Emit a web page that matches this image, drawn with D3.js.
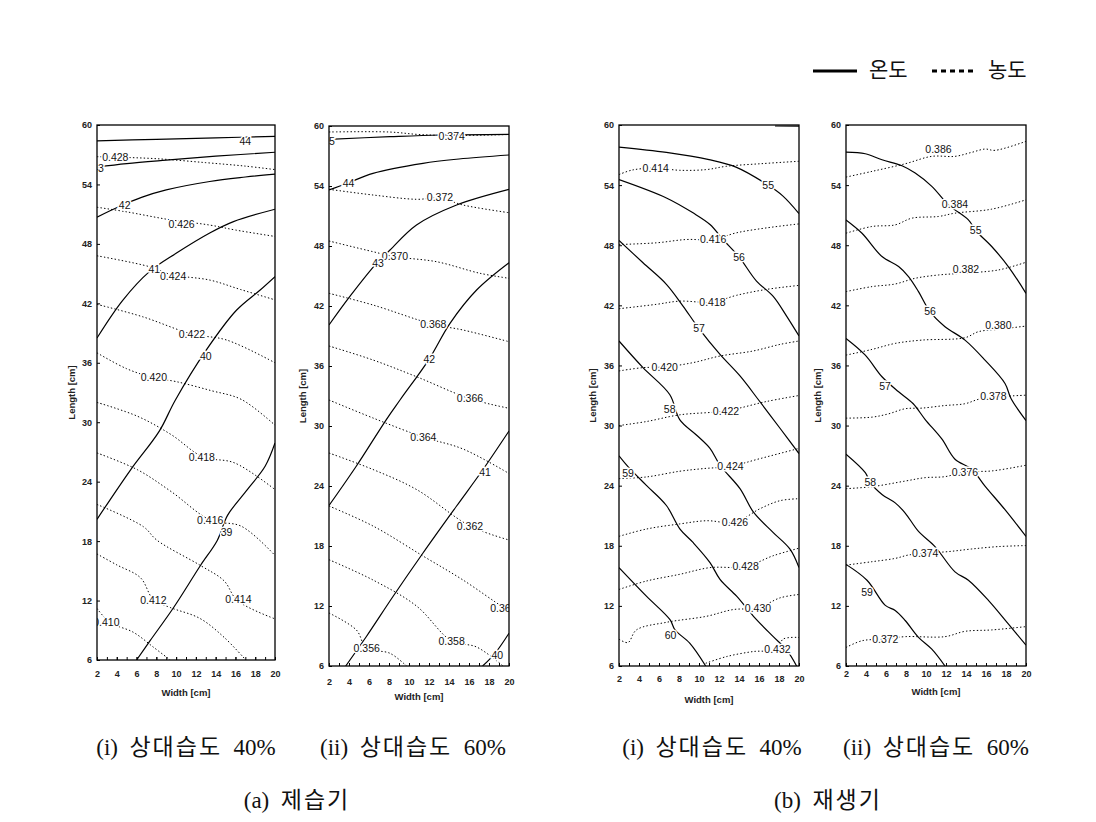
<!DOCTYPE html>
<html><head><meta charset="utf-8">
<script src="https://cdn.jsdelivr.net/npm/d3@7"></script>
<style>body{margin:0;background:#fff} svg{display:block}</style>
</head><body><svg id="c" width="1096" height="822"></svg>
<script>
// ---------- data ----------
const xTicks = [2,4,6,8,10,12,14,16,18,20];
const xMinorTicks = d3.range(3,20,1);
const yTicks = [6,12,18,24,30,36,42,48,54,60];
const xDomain = [2,20];
const yDomain = [6,60];

// (a)(i) dehumidifier, RH 40%
const tempA1 = [
  {level:"44", label:[17,58.35], pts:[[2,58.4],[8,58.55],[14,58.7],[20,58.85]]},
  {level:"43", label:[2.1,55.65], pts:[[2,55.75],[5,56.1],[9,56.45],[14,56.85],[20,57.25]]},
  {level:"42", label:[4.8,51.9], pts:[[2,50.7],[4.3,51.8],[6.5,52.7],[9,53.45],[13.4,54.3],[17,54.75],[20,55.05]]},
  {level:"41", label:[7.8,45.4], pts:[[2,38.5],[4.6,42.3],[7.3,45.2],[10,47.05],[13.4,49.1],[15.8,50.25],[20,51.5]]},
  {level:"40", label:[13.0,36.7], pts:[[2,20.2],[5.4,25.2],[8.3,29.1],[9.9,32.2],[13.06,37.3],[16.1,41.3],[18.5,43.35],[20,44.7]]},
  {level:"39", label:[15.1,18.9], pts:[[6.0,6],[7.37,7.95],[9.75,11.3],[12.46,15.54],[14.16,18.07],[15.2,20.6],[17.2,23.2],[19,25.55],[20,27.9]]}
];
const concA1 = [
  {level:"0.428", label:[3.85,56.7], pts:[[2,56.8],[4,56.75],[8,56.6],[13,56.2],[17,55.85],[20,55.5]]},
  {level:"0.426", label:[10.55,50.0], pts:[[2,51.7],[4.9,51.25],[9.3,50.45],[13.4,49.9],[16,49.4],[20,48.75]]},
  {level:"0.424", label:[9.7,44.7], pts:[[2,46.8],[7.3,45.7],[9.5,44.9],[13.4,44.35],[16.5,43.4],[20,42.35]]},
  {level:"0.422", label:[11.6,38.9], pts:[[2,41.9],[6.6,40.65],[11.6,38.9],[15.1,38.3],[20,36.0]]},
  {level:"0.420", label:[7.75,34.5], pts:[[2,37.0],[5,35.4],[7.7,34.5],[10,34.1],[13.5,33.2],[16.6,32.3],[20,29.7]]},
  {level:"0.418", label:[12.6,26.45], pts:[[2,32.0],[6.1,30.6],[9.5,28.75],[12.7,26.5],[15.9,25.9],[20,23.2]]},
  {level:"0.416", label:[13.45,20.05], pts:[[2,26.9],[6.1,25.2],[9.5,23.0],[13.5,20.1],[16.6,19.5],[20,16.55]]},
  {level:"0.414", label:[16.3,12.1], pts:[[2,21.7],[6.7,19.45],[8.05,18.1],[12.46,15.54],[14.84,14.0],[16.2,12.0],[20,10.15]]},
  {level:"0.412", label:[7.7,12.05], pts:[[2,16.7],[4,15.6],[6.4,14.3],[7.7,12.1],[9.4,11.3],[12.4,10.2],[14.84,8.3],[17.05,6]]},
  {level:"0.410", label:[2.95,9.8], pts:[[2,11.2],[3.3,9.8],[5.67,8.8],[7.7,7.3],[9.4,6]]}
];

// (a)(ii) dehumidifier, RH 60%
const tempA2 = [
  {level:"45", label:[2.0,58.45], pts:[[2,58.67],[8.1,58.93],[13.1,59.1],[20,59.17]]},
  {level:"44", label:[3.95,54.3], pts:[[2,53.6],[3.9,54.3],[6.4,55.27],[11.4,56.27],[15,56.7],[20,57.1]]},
  {level:"43", label:[6.9,46.3], pts:[[2,40.1],[4.07,42.93],[6.9,46.43],[8.1,47.6],[10.75,50.1],[14.76,52.1],[20,53.67]]},
  {level:"42", label:[12.03,36.67], pts:[[2,22.05],[4.74,26],[7.75,30.67],[9.1,32.6],[12.0,36.67],[14.1,40.27],[16.76,43.6],[20,46.33]]},
  {level:"41", label:[17.6,25.35], pts:[[3.67,6],[5.74,8.95],[8.4,12.95],[11.4,17.3],[14.76,22],[17.4,25.65],[20,29.5]]},
  {level:"40", label:[18.83,7.1], pts:[[17.36,6],[18.6,7.27],[20,9.28]]}
];
const concA2 = [
  {level:"0.374", label:[14.27,59.0], pts:[[2,59.4],[8,59.4],[11,59.15],[14.3,59.05],[20,59.15]]},
  {level:"0.372", label:[13.1,52.83], pts:[[2,53.67],[6.4,53.1],[10.75,52.67],[13.1,52.8],[15.4,52.1],[20,51.33]]},
  {level:"0.370", label:[8.6,46.93], pts:[[2,48.5],[6.4,47.43],[8.58,46.93],[12.75,46.43],[17.1,45.27],[20,44.77]]},
  {level:"0.368", label:[12.43,40.17], pts:[[2,43.27],[6.4,42.1],[12.4,40.17],[15.4,39.6],[20,38.43]]},
  {level:"0.366", label:[16.1,32.73], pts:[[2,38.0],[6.4,36.6],[10.75,34.93],[16.1,32.73],[20,31.77]]},
  {level:"0.364", label:[11.43,28.87], pts:[[2,32.6],[6.4,30.8],[11.4,28.9],[15.4,27.7],[20,25.25]]},
  {level:"0.362", label:[16.1,19.93], pts:[[2,27.3],[6.4,25.65],[10.75,23.65],[16.1,20.0],[20,18.6]]},
  {level:"0.360", label:[19.43,11.77], pts:[[2,22.0],[6.4,20.0],[11.4,17.0],[15.4,14.6],[19.4,11.9],[20,11.6]]},
  {level:"0.358", label:[14.26,8.44], pts:[[2,16.63],[6.4,14.6],[10.75,12.0],[14.26,8.5],[16.76,7.9],[19.4,6]]},
  {level:"0.356", label:[5.77,7.77], pts:[[2,11.3],[4.74,9.6],[5.74,7.8],[8.1,7.27],[9.75,6]]}
];

// (b)(i) regenerator, RH 40%
const tempB1 = [
  {level:"54", label:null, pts:[[17.6,59.9],[20,59.88]]},
  {level:"55", label:[16.92,54.0], pts:[[2,57.8],[6.74,57.27],[11.0,56.55],[13.7,55.8],[16.9,54.0],[18.4,52.9],[20,51.16]]},
  {level:"56", label:[14.0,46.84], pts:[[2,54.55],[6.74,52.72],[9.4,51.23],[11.1,50.07],[12.4,48.57],[14.0,46.84],[15.75,44.42],[17.4,42.92],[18.76,40.93],[20,38.94]]},
  {level:"57", label:[10.0,39.67], pts:[[2,48.47],[4.4,46.25],[6.74,44.1],[8.4,41.93],[10.0,39.67],[12.1,37.1],[14.1,34.95],[16.0,32.5],[18.1,29.73],[20,27.2]]},
  {level:"58", label:[7.07,31.6], pts:[[2,38.44],[4.4,35.78],[7.07,33.1],[8.07,30.6],[9.74,29.06],[11.1,27.72],[12.1,26.04],[14.1,23.7],[15.45,21.35],[17.4,19.34],[19.1,17.66],[20,15.82]]},
  {level:"59", label:[2.9,25.2], pts:[[2,26.98],[2.9,25.9],[4.74,24.03],[6.74,22.02],[8.1,19.67],[9.4,18.33],[11.1,16.32],[12.1,14.65],[13.76,12.97],[15.45,10.96],[17.4,8.95],[18.76,7.6],[19.76,6]]},
  {level:"60", label:[7.15,9.1], pts:[[2,15.82],[4.74,12.97],[7.1,10.62],[7.6,9.6],[9.07,8.28],[10.67,6]]}
];
const concB1 = [
  {level:"0.414", label:[5.67,55.7], pts:[[2,55.05],[3.3,55.5],[5.67,55.7],[8.07,55.48],[10.74,55.55],[12.75,55.88],[16.4,56.15],[20,56.38]]},
  {level:"0.416", label:[11.41,48.6], pts:[[2,48.07],[5.74,48.24],[8.74,48.57],[11.4,48.57],[13.75,49.24],[16.75,49.73],[20,50.13]]},
  {level:"0.418", label:[11.35,42.32], pts:[[2,41.66],[5.74,42.1],[8.07,42.42],[11.35,42.32],[13.75,43.0],[16.75,43.59],[20,43.99]]},
  {level:"0.420", label:[6.57,35.85], pts:[[2,35.45],[4.4,35.78],[6.57,35.85],[9.4,36.28],[12.1,36.94],[15.4,37.44],[18.1,38.1],[20,38.44]]},
  {level:"0.422", label:[12.7,31.47], pts:[[2,30.0],[4.74,30.4],[8.07,31.07],[12.7,31.47],[16.75,32.4],[20,33.0]]},
  {level:"0.424", label:[13.15,25.94], pts:[[2,24.7],[4.74,24.87],[8.07,25.44],[10.4,25.7],[13.15,25.94],[16.1,26.7],[20,27.72]]},
  {level:"0.426", label:[13.6,20.35], pts:[[2,18.94],[4.74,19.67],[8.07,20.18],[10.74,20.5],[13.6,20.35],[16.1,21.7],[18.1,22.5],[20,22.7]]},
  {level:"0.428", label:[14.66,15.92], pts:[[2,13.64],[4.74,14.48],[8.07,15.15],[11.1,15.82],[14.66,15.92],[17.4,17.0],[20,17.76]]},
  {level:"0.430", label:[15.9,11.8], pts:[[2,8.68],[2.9,8.34],[3.74,9.6],[6.74,10.36],[10.74,10.96],[13.4,11.63],[15.9,11.8],[18.1,12.8],[20,13.14]]},
  {level:"0.432", label:[17.85,7.67], pts:[[10.67,6.27],[12.75,6.94],[15.4,7.44],[17.85,7.67],[18.4,8.68],[20,8.85]]}
];

// (b)(ii) regenerator, RH 60%
const tempB2 = [
  {level:"55", label:[14.97,49.47], pts:[[2,57.3],[3.93,57.13],[5.6,56.53],[7.6,55.93],[8.92,55.2],[10.58,53.87],[12.25,52.03],[14.24,50.53],[14.97,49.47],[16.57,47.87],[18.23,45.87],[20,43.2]]},
  {level:"56", label:[10.4,41.37], pts:[[2,50.53],[3.6,49.2],[5.6,46.87],[7.26,45.87],[8.25,44.87],[9.25,43.37],[10.4,41.37],[11.9,39.87],[13.9,38.53],[15.9,36.53],[17.9,34.2],[18.5,32.7],[20,30.5]]},
  {level:"57", label:[5.9,33.87], pts:[[2,38.7],[3.93,37.03],[5.6,34.87],[7.26,33.37],[8.7,32.2],[9.92,30.6],[11.58,28.66],[12.9,26.64],[14.57,25.64],[15.9,23.96],[17.9,21.6],[20,18.93]]},
  {level:"58", label:[4.43,24.3], pts:[[2,27.15],[3.93,25.3],[4.43,24.3],[5.6,23.12],[6.92,22.28],[7.92,21.27],[9.25,19.43],[10.9,17.92],[12.9,15.4],[14.24,14.56],[16.24,12.55],[18.23,10.2],[20,8.09]]},
  {level:"59", label:[4.1,13.4], pts:[[2,16.14],[4.1,14.56],[5.93,12.05],[6.92,11.54],[7.92,10.54],[9.25,8.86],[10.58,7.68],[11.9,6]]}
];
const concB2 = [
  {level:"0.386", label:[11.25,57.53], pts:[[2,54.8],[4.6,55.37],[7.92,56.13],[10.58,56.87],[12.9,56.87],[14.57,57.27],[15.9,57.6],[16.9,57.47],[20,58.37]]},
  {level:"0.384", label:[12.9,52.07], pts:[[2,49.2],[4.6,49.87],[6.92,50.03],[8.59,50.7],[11.25,50.87],[12.9,51.2],[16.57,51.6],[20,52.53]]},
  {level:"0.382", label:[14.0,45.63], pts:[[2,43.37],[4.6,43.87],[6.92,44.13],[8.92,44.7],[11.25,45.03],[13.58,45.2],[17.24,45.53],[20,46.3]]},
  {level:"0.380", label:[17.24,40.03], pts:[[2,37.03],[4.6,37.6],[6.92,38.2],[9.58,38.53],[13.9,38.77],[15.24,39.37],[17.24,39.6],[20,39.93]]},
  {level:"0.378", label:[16.74,32.93], pts:[[2,30.74],[4.6,30.84],[6.26,31.17],[7.92,31.68],[9.58,31.74],[11.9,32.0],[13.9,32.18],[15.5,32.68],[20,33.03]]},
  {level:"0.376", label:[13.9,25.37], pts:[[2,23.7],[4.6,23.9],[7.92,24.46],[9.92,24.8],[11.9,24.9],[13.9,25.37],[16.57,25.47],[20,26.04]]},
  {level:"0.374", label:[9.92,17.25], pts:[[2,16.07],[4.6,16.41],[6.92,16.74],[8.25,17.08],[9.92,17.25],[12.25,17.42],[14.57,17.68],[17.24,17.92],[20,18.02]]},
  {level:"0.372", label:[5.93,8.69], pts:[[2,7.85],[3.6,8.52],[5.93,8.69],[7.92,8.93],[11.9,8.93],[13.9,9.46],[16.57,9.6],[20,9.93]]}
];

const subCaptions = ["(i)  상대습도  40%", "(ii)  상대습도  60%", "(i)  상대습도  40%", "(ii)  상대습도  60%"];
const groupCaptions = ["(a)  제습기", "(b)  재생기"];
const legendNames = ["온도", "농도"];
const xTitle = "Width [cm]";
const yTitle = "Length [cm]";

// ---------- layout ----------
const panels = [
  {temp: tempA1, conc: concA1, box:{l:97, r:275, t:125, b:660}, xPad:11, xTitleY:692.5, yTitleX:72, capX:186},
  {temp: tempA2, conc: concA2, box:{l:329, r:509, t:126, b:666}, xPad:12.5, xTitleY:696.5, yTitleX:303, capX:413},
  {temp: tempB1, conc: concB1, box:{l:619, r:799, t:125, b:666}, xPad:10, xTitleY:700, yTitleX:593, capX:712},
  {temp: tempB2, conc: concB2, box:{l:846, r:1026, t:125, b:666}, xPad:4.5, xTitleY:691.5, yTitleX:818, capX:936}
];

const svg = d3.select("#c");
const SANS = "'Liberation Sans', Arial, sans-serif";
const CAPFONT = "'Liberation Serif', 'Noto Sans CJK KR', serif";

// caption: Hangul runs get extra letter spacing, Latin runs none
function caption(x0, y0, str) {
  const t = svg.append("text").attr("x", x0).attr("y", y0).attr("dy", "0.35em")
    .attr("text-anchor", "middle").style("white-space", "pre")
    .attr("font-family", CAPFONT).attr("font-size", 23).attr("fill", "#111");
  const runs = str.match(/[\uAC00-\uD7A3]+|[^\uAC00-\uD7A3]+/g);
  runs.forEach(run => {
    const hangul = /[\uAC00-\uD7A3]/.test(run);
    t.append("tspan").attr("letter-spacing", hangul ? 2 : 0).text(run);
  });
}

panels.forEach((p, i) => {
  const {l, r, t, b} = p.box;
  const x = d3.scaleLinear().domain(xDomain).range([l, r]);
  const y = d3.scaleLinear().domain(yDomain).range([b, t]);
  const g = svg.append("g");
  const clipId = "clip" + i;
  svg.append("clipPath").attr("id", clipId)
    .append("rect").attr("x", l).attr("y", t).attr("width", r - l).attr("height", b - t);

  const line = d3.line().x(d => x(d[0])).y(d => y(d[1])).curve(d3.curveCatmullRom.alpha(0.5));
  const plot = g.append("g").attr("clip-path", `url(#${clipId})`);

  plot.selectAll("path.conc").data(p.conc).join("path")
    .attr("class", "conc").attr("d", d => line(d.pts))
    .attr("fill", "none").attr("stroke", "#000").attr("stroke-width", 1)
    .attr("stroke-dasharray", "1.4,2.2");
  plot.selectAll("path.temp").data(p.temp).join("path")
    .attr("class", "temp").attr("d", d => line(d.pts))
    .attr("fill", "none").attr("stroke", "#000").attr("stroke-width", 1.2);

  const labels = p.conc.concat(p.temp).filter(d => d.label);
  plot.selectAll("text.lab").data(labels).join("text")
    .attr("class", "lab")
    .attr("x", d => x(d.label[0])).attr("y", d => y(d.label[1]))
    .attr("dy", "0.35em").attr("text-anchor", "middle")
    .attr("font-family", SANS).attr("font-size", 10.5).attr("fill", "#111")
    .attr("stroke", "#fff").attr("stroke-width", 3).attr("paint-order", "stroke")
    .text(d => d.level);

  // frame
  g.append("rect").attr("x", l).attr("y", t).attr("width", r - l).attr("height", b - t)
    .attr("fill", "none").attr("stroke", "#000").attr("stroke-width", 1.3);

  // axes
  const xa = g.append("g").attr("transform", `translate(0,${b})`)
    .call(d3.axisBottom(x).tickValues(xTicks).tickSize(-3).tickPadding(p.xPad).tickFormat(d3.format("d")));
  g.append("g").attr("transform", `translate(0,${b})`)
    .call(d3.axisBottom(x).tickValues(xMinorTicks).tickSize(-3).tickFormat(""))
    .call(s => s.select(".domain").remove());
  const ya = g.append("g").attr("transform", `translate(${l},0)`)
    .call(d3.axisLeft(y).tickValues(yTicks).tickSize(-3).tickPadding(5).tickFormat(d3.format("d")));
  [xa, ya].forEach(a => {
    a.select(".domain").remove();
    a.selectAll("text").attr("font-family", SANS).attr("font-size", 9).attr("font-weight", "bold").attr("fill", "#222");
  });

  g.append("text").attr("x", (l + r) / 2).attr("y", p.xTitleY).attr("dy", "0.35em")
    .attr("text-anchor", "middle").attr("font-family", SANS).attr("font-size", 9.5)
    .attr("font-weight", "bold").attr("fill", "#222").text(xTitle);
  g.append("text").attr("transform", `translate(${p.yTitleX},${(t + b) / 2}) rotate(-90)`)
    .attr("dy", "0.35em").attr("text-anchor", "middle").attr("font-family", SANS).attr("font-size", 9.5)
    .attr("font-weight", "bold").attr("fill", "#222").text(yTitle);

  caption(p.capX, 747, subCaptions[i]);
});

[297, 828].forEach((cx, i) => caption(cx, 800, groupCaptions[i]));

// legend
const lg = svg.append("g");
lg.append("line").attr("x1", 813).attr("x2", 857).attr("y1", 71).attr("y2", 71)
  .attr("stroke", "#000").attr("stroke-width", 3);
lg.append("line").attr("x1", 932).attr("x2", 976).attr("y1", 71).attr("y2", 71)
  .attr("stroke", "#000").attr("stroke-width", 3).attr("stroke-dasharray", "5,4");
lg.selectAll("text").data(legendNames).join("text")
  .attr("x", (d, i) => i === 0 ? 869 : 988).attr("y", 70).attr("dy", "0.35em")
  .attr("font-family", "'Noto Sans CJK KR', sans-serif").attr("font-size", 21).attr("fill", "#111")
  .text(d => d);
</script></body></html>
